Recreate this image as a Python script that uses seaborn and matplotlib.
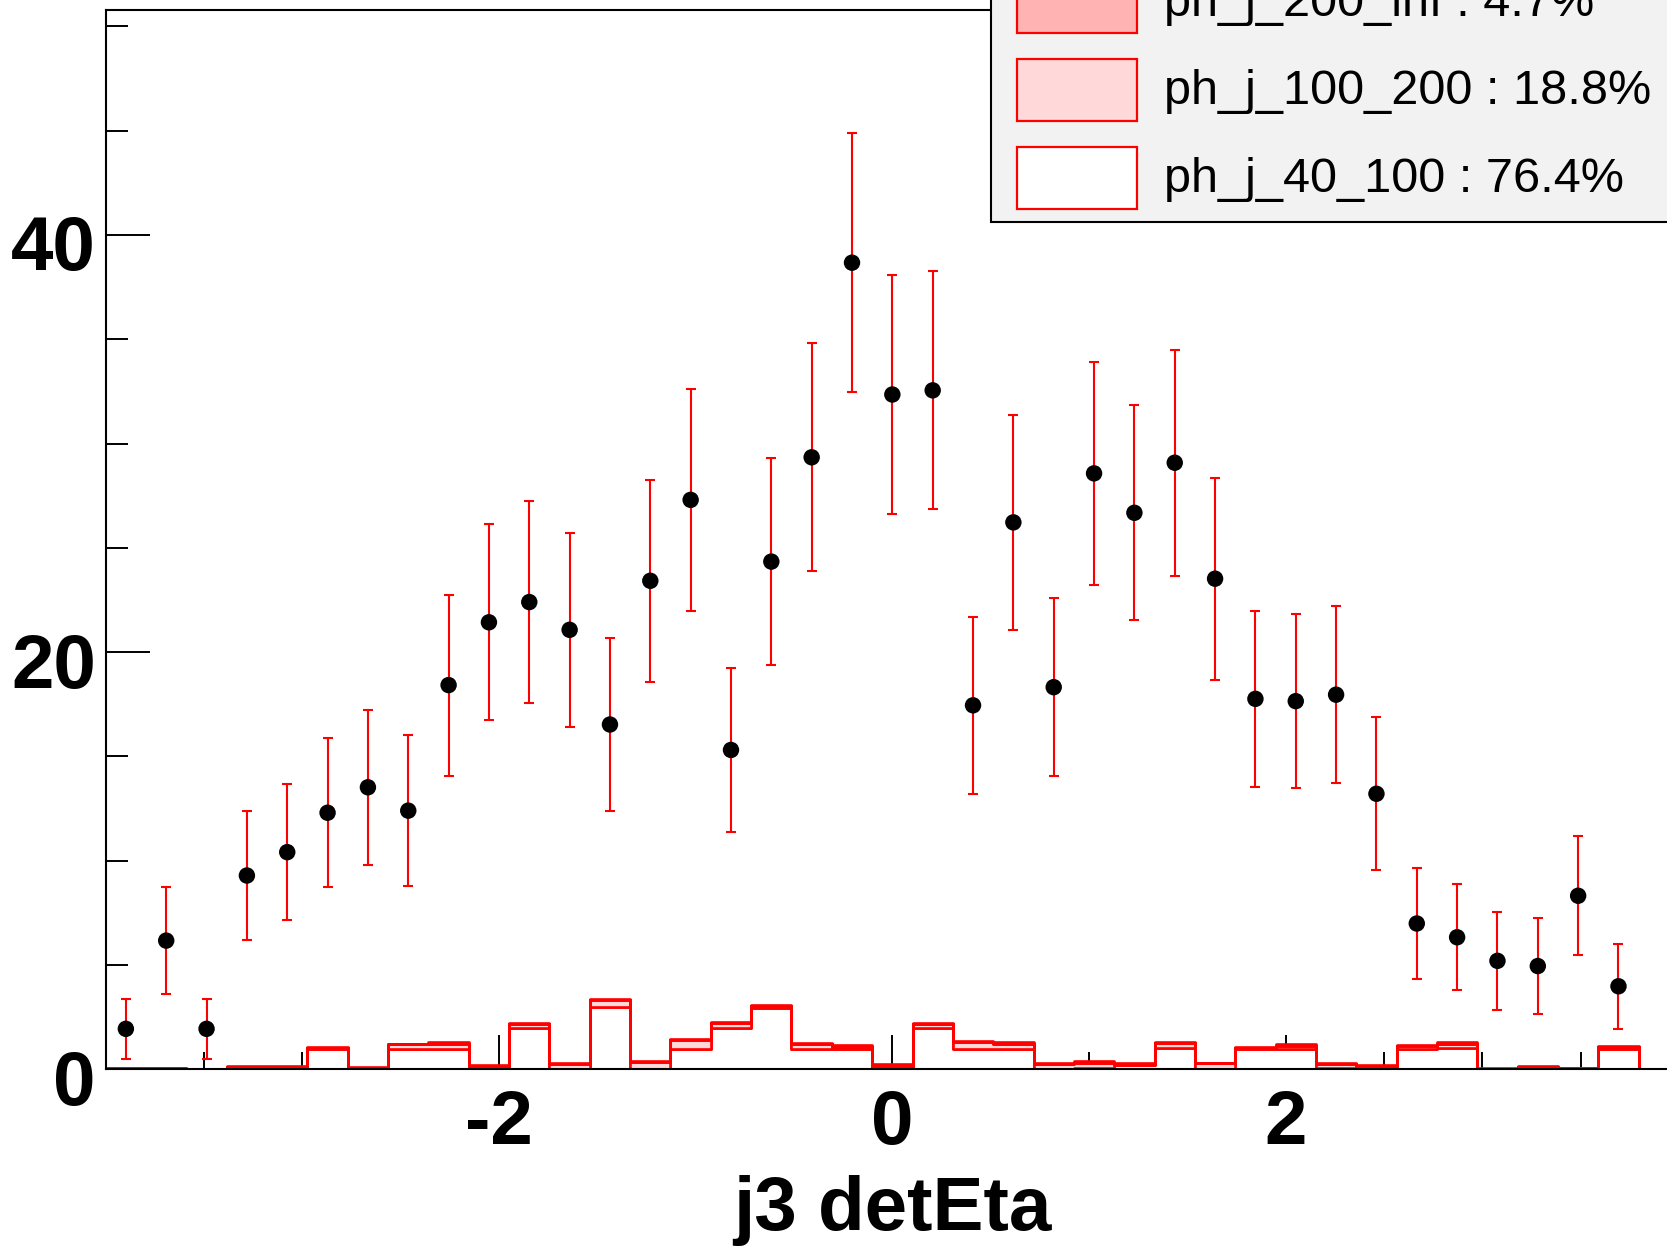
import numpy as np
import pandas as pd
import matplotlib
matplotlib.use("Agg")
import matplotlib.pyplot as plt
from matplotlib.patches import Rectangle
from matplotlib.ticker import MultipleLocator, FixedLocator
from matplotlib.transforms import ScaledTranslation
import seaborn as sns

# binning of the histogram: 39 bins from -4 to 4
n_bins = 39
x_lo, x_hi = -4.0, 4.0

# data points (bins 0..37, the last bin is empty)
data_counts = [1.94, 6.17, 1.94, 9.29, 10.41, 12.30, 13.52, 12.40, 18.42, 21.43,
               22.40, 21.07, 16.53, 23.42, 27.30, 15.31, 24.34, 29.34, 38.67, 32.35,
               32.55, 17.45, 26.22, 18.32, 28.57, 26.68, 29.08, 23.52, 17.76, 17.65,
               17.96, 13.21, 6.99, 6.33, 5.20, 4.95, 8.32, 3.98]
data_errors = [1.43, 2.55, 1.43, 3.11, 3.27, 3.57, 3.72, 3.62, 4.34, 4.69,
               4.85, 4.64, 4.13, 4.85, 5.31, 3.93, 4.95, 5.46, 6.22, 5.71,
               5.71, 4.23, 5.15, 4.28, 5.36, 5.15, 5.41, 4.85, 4.23, 4.18,
               4.23, 3.67, 2.65, 2.55, 2.35, 2.30, 2.86, 2.04]

# stacked MC components, one value per bin
ph_j_40_100 = [0.00, 0.00, 0.00, 0.05, 0.05, 0.95, 0.00, 0.97, 0.97, 0.10,
               2.00, 0.00, 3.00, 0.00, 0.97, 2.00, 2.95, 0.97, 0.97, 0.05,
               2.00, 0.97, 0.97, 0.02, 0.05, 0.19, 1.00, 0.00, 0.97, 0.96,
               0.05, 0.05, 0.96, 1.00, 0.00, 0.05, 0.00, 0.96, 0.00]
ph_j_100_200 = [0.05, 0.05, 0.00, 0.05, 0.05, 0.05, 0.05, 0.26, 0.26, 0.06,
                0.18, 0.25, 0.33, 0.35, 0.45, 0.22, 0.08, 0.25, 0.12, 0.10,
                0.18, 0.35, 0.22, 0.24, 0.25, 0.07, 0.28, 0.28, 0.04, 0.14,
                0.20, 0.07, 0.14, 0.22, 0.03, 0.05, 0.04, 0.09, 0.02]
ph_j_200_inf = [0.03, 0.03, 0.02, 0.04, 0.04, 0.05, 0.05, 0.00, 0.06, 0.06,
                0.04, 0.07, 0.04, 0.05, 0.03, 0.03, 0.05, 0.06, 0.08, 0.09,
                0.04, 0.05, 0.10, 0.06, 0.08, 0.04, 0.05, 0.04, 0.04, 0.10,
                0.07, 0.07, 0.08, 0.07, 0.03, 0.04, 0.04, 0.08, 0.01]

components = ["ph_j_200_inf", "ph_j_100_200", "ph_j_40_100"]
legend_labels = ["ph_j_200_inf : 4.7%", "ph_j_100_200 : 18.8%", "ph_j_40_100 : 76.4%"]
fill_colors = {"ph_j_200_inf": "#ffb3b3", "ph_j_100_200": "#ffd9d9", "ph_j_40_100": "#ffffff"}

edges = np.linspace(x_lo, x_hi, n_bins + 1)
centers = 0.5 * (edges[:-1] + edges[1:])

mc = pd.DataFrame({
    "x": np.tile(centers, 3),
    "w": ph_j_200_inf + ph_j_100_200 + ph_j_40_100,
    "comp": np.repeat(components, n_bins),
})

sns.set_style("ticks")
plt.rcParams["font.family"] = ["Liberation Sans", "DejaVu Sans"]
plt.rcParams["text.color"] = "black"
plt.rcParams["axes.labelcolor"] = "black"
plt.rcParams["axes.unicode_minus"] = False

W, H = 1667, 1249
fig = plt.figure(figsize=(W / 100, H / 100), dpi=100)
# frame goes a bit past the right edge of the picture, like the original
ax = fig.add_axes([105.7 / W, 1 - 1069.3 / H, (1679 - 105.7) / W, (1069.3 - 10.3) / H])

sns.histplot(data=mc, x="x", weights="w", hue="comp", hue_order=components,
             bins=edges.tolist(), multiple="stack", element="step", fill=True,
             palette=fill_colors, edgecolor="red", linewidth=1.9, alpha=1,
             legend=False, ax=ax)

ax.errorbar(centers[:len(data_counts)], data_counts, yerr=data_errors, fmt="none",
            ecolor="red", elinewidth=1.5, capsize=3.6, capthick=1.5, zorder=5)
sns.scatterplot(x=centers[:len(data_counts)], y=data_counts, color="black", s=140,
                edgecolor="none", zorder=6, ax=ax)

ax.set_xlim(x_lo, x_hi)
ax.set_ylim(0, 50.77)
ax.set_ylabel("")
ax.set_xlabel("j3 detEta", fontsize=55, fontweight="bold", color="black")
ax.xaxis.set_label_coords(0.5, -0.1)

ax.xaxis.set_major_locator(FixedLocator([-2, 0, 2]))
ax.xaxis.set_minor_locator(MultipleLocator(0.5))
ax.yaxis.set_major_locator(FixedLocator([0, 20, 40]))
ax.yaxis.set_minor_locator(MultipleLocator(5))
ax.tick_params(axis="both", which="both", direction="in", width=1.4, colors="black")
ax.tick_params(axis="y", which="major", length=32, pad=7, labelsize=55)
ax.tick_params(axis="y", which="minor", length=16)
ax.tick_params(axis="x", which="major", length=24.5, pad=14, labelsize=55)
ax.tick_params(axis="x", which="minor", length=12)
# ROOT puts the y labels a little under their ticks
shift_down = ScaledTranslation(0, -0.08, fig.dpi_scale_trans)
for lab in ax.get_yticklabels():
    lab.set_transform(lab.get_transform() + shift_down)
for lab in ax.get_xticklabels() + ax.get_yticklabels():
    lab.set_fontweight("bold")
for sp in ax.spines.values():
    sp.set_linewidth(1.5)
    sp.set_color("black")
    sp.set_zorder(10)


# legend box, cut by the top and right border like the original
def fx(px):
    return px / W


def fy(py):
    return 1 - py / H


fig.add_artist(Rectangle((fx(990.5), fy(221.7)), fx(800), 300 / H,
                         transform=fig.transFigure, facecolor="#f2f2f2",
                         edgecolor="black", linewidth=1.5, zorder=20))
row_centers = [2, 90, 178]
for comp, lab, yc in zip(components, legend_labels, row_centers):
    fig.add_artist(Rectangle((fx(1017), fy(yc + 31)), fx(120), 62 / H,
                             transform=fig.transFigure, facecolor=fill_colors[comp],
                             edgecolor="red", linewidth=1.6, zorder=21))
    fig.text(fx(1164), fy(yc + 14), lab, fontsize=35, va="baseline", ha="left",
             color="black", zorder=22)

fig.savefig("out.png", dpi=100)
